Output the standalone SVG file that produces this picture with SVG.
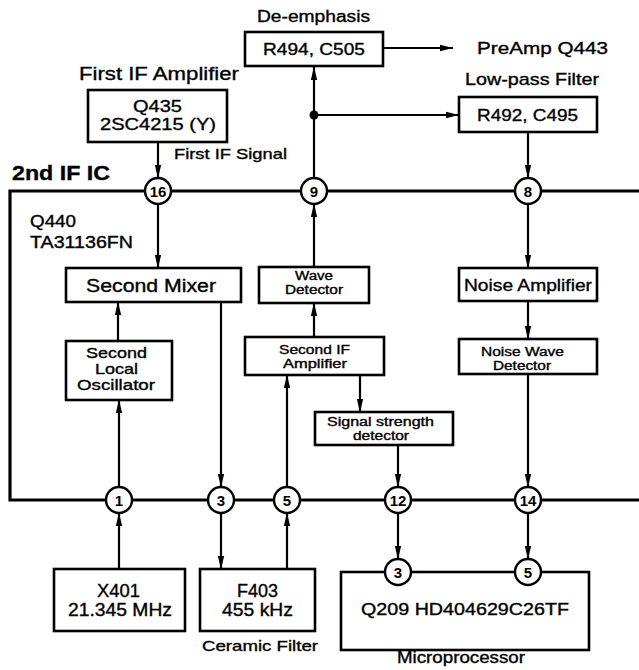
<svg xmlns="http://www.w3.org/2000/svg" width="639" height="670" viewBox="0 0 639 670">
<defs>
<marker id="ah" markerUnits="userSpaceOnUse" markerWidth="13" markerHeight="8" refX="13" refY="4" orient="auto">
<path d="M0,0.8 L13,4 L0,7.2 z" fill="#000"/>
</marker>
<style>
.t{font-family:"Liberation Sans",Arial,Helvetica,sans-serif;fill:#000;stroke:#000;stroke-width:0.35;text-anchor:middle}
.s{text-anchor:start}
.box{fill:#fff;stroke:#000;stroke-width:2.6}
.pin{fill:#fff;stroke:#000;stroke-width:2.4}
.pn{font-family:"Liberation Sans",Arial,sans-serif;font-weight:bold;font-size:15px;fill:#000;text-anchor:middle}
.c{fill:none;stroke:#000;stroke-width:2.2;marker-end:url(#ah)}
.ic{fill:none;stroke:#000;stroke-width:3.2}
</style>
</defs>
<rect x="0" y="0" width="639" height="670" fill="#fff"/>

<g id="ic-outline">
<path class="ic" d="M639,191 H10 V500 H639"/>
<text class="t s" x="12" y="180" font-size="21" font-weight="bold" textLength="98" lengthAdjust="spacingAndGlyphs">2nd IF IC</text>
<text class="t s" x="30" y="227" font-size="16" textLength="46" lengthAdjust="spacingAndGlyphs">Q440</text>
<text class="t s" x="30" y="248" font-size="16" textLength="103" lengthAdjust="spacingAndGlyphs">TA31136FN</text>
</g>

<g id="connectors">
<line class="c" x1="383" y1="48" x2="453" y2="48"/>
<line class="c" x1="314" y1="178" x2="314" y2="67"/>
<line class="c" x1="314" y1="115" x2="459" y2="115"/>
<circle cx="314" cy="115" r="4.5" fill="#000"/>
<line class="c" x1="528" y1="132" x2="528" y2="178"/>
<line class="c" x1="158" y1="142" x2="158" y2="178"/>
<line class="c" x1="158" y1="204" x2="158" y2="268"/>
<line class="c" x1="118" y1="341" x2="118" y2="302"/>
<line class="c" x1="119" y1="487" x2="119" y2="400"/>
<line class="c" x1="221" y1="302" x2="221" y2="487"/>
<line class="c" x1="314" y1="267" x2="314" y2="204"/>
<line class="c" x1="314" y1="337" x2="314" y2="303"/>
<line class="c" x1="287" y1="487" x2="287" y2="375"/>
<line class="c" x1="360" y1="375" x2="360" y2="412"/>
<line class="c" x1="398" y1="445" x2="398" y2="487"/>
<line class="c" x1="528" y1="204" x2="528" y2="268"/>
<line class="c" x1="528" y1="301" x2="528" y2="339"/>
<line class="c" x1="528" y1="374" x2="528" y2="487"/>
<line class="c" x1="119" y1="569" x2="119" y2="513"/>
<line class="c" x1="221" y1="513" x2="221" y2="569"/>
<line class="c" x1="287" y1="569" x2="287" y2="513"/>
<line class="c" x1="398" y1="513" x2="398" y2="559"/>
<line class="c" x1="528" y1="513" x2="528" y2="559"/>
</g>

<g id="de-emphasis">
<text class="t" x="313.5" y="22" font-size="16" textLength="113" lengthAdjust="spacingAndGlyphs">De-emphasis</text>
<rect class="box" x="245" y="32" width="138" height="34"/>
<text class="t" x="314" y="55" font-size="17" textLength="102" lengthAdjust="spacingAndGlyphs">R494, C505</text>
</g>
<g id="preamp">
<text class="t s" x="477" y="54" font-size="17" textLength="131" lengthAdjust="spacingAndGlyphs">PreAmp  Q443</text>
</g>
<g id="low-pass">
<text class="t" x="532" y="85" font-size="17" textLength="134" lengthAdjust="spacingAndGlyphs">Low-pass Filter</text>
<rect class="box" x="459" y="97" width="138" height="35"/>
<text class="t" x="527.5" y="121" font-size="17" textLength="101" lengthAdjust="spacingAndGlyphs">R492, C495</text>
</g>
<g id="first-if-amp">
<text class="t" x="159" y="80" font-size="18" textLength="160" lengthAdjust="spacingAndGlyphs">First IF Amplifier</text>
<rect class="box" x="88" y="90" width="139" height="52"/>
<text class="t" x="157.5" y="112" font-size="17" textLength="49" lengthAdjust="spacingAndGlyphs">Q435</text>
<text class="t" x="158" y="130" font-size="17" textLength="116" lengthAdjust="spacingAndGlyphs">2SC4215 (Y)</text>
<text class="t s" x="174" y="159" font-size="15" textLength="113" lengthAdjust="spacingAndGlyphs">First IF Signal</text>
</g>

<g id="second-mixer">
<rect class="box" x="66" y="268" width="175" height="34"/>
<text class="t" x="151" y="292" font-size="18" textLength="130" lengthAdjust="spacingAndGlyphs">Second Mixer</text>
</g>
<g id="second-local-osc">
<rect class="box" x="66" y="341" width="106" height="59"/>
<text class="t" x="116.5" y="358" font-size="15" textLength="61" lengthAdjust="spacingAndGlyphs">Second</text>
<text class="t" x="116.5" y="374" font-size="15" textLength="43" lengthAdjust="spacingAndGlyphs">Local</text>
<text class="t" x="116" y="390" font-size="15" textLength="78" lengthAdjust="spacingAndGlyphs">Oscillator</text>
</g>
<g id="wave-detector">
<rect class="box" x="259" y="267" width="110" height="36"/>
<text class="t" x="314" y="280" font-size="12" textLength="38" lengthAdjust="spacingAndGlyphs">Wave</text>
<text class="t" x="314" y="294" font-size="12" textLength="58" lengthAdjust="spacingAndGlyphs">Detector</text>
</g>
<g id="second-if-amp">
<rect class="box" x="245" y="337" width="139" height="38"/>
<text class="t" x="314.5" y="354" font-size="12" textLength="71" lengthAdjust="spacingAndGlyphs">Second IF</text>
<text class="t" x="315" y="368" font-size="12" textLength="64" lengthAdjust="spacingAndGlyphs">Amplifier</text>
</g>
<g id="signal-strength">
<rect class="box" x="315" y="412" width="138" height="33"/>
<text class="t" x="380.5" y="426" font-size="12" textLength="107" lengthAdjust="spacingAndGlyphs">Signal strength</text>
<text class="t" x="381" y="440" font-size="12" textLength="56" lengthAdjust="spacingAndGlyphs">detector</text>
</g>
<g id="noise-amp">
<rect class="box" x="459" y="268" width="138" height="33"/>
<text class="t" x="528" y="291" font-size="17" textLength="128" lengthAdjust="spacingAndGlyphs">Noise Amplifier</text>
</g>
<g id="noise-wave-detector">
<rect class="box" x="459" y="339" width="138" height="35"/>
<text class="t" x="522.5" y="356" font-size="12" textLength="83" lengthAdjust="spacingAndGlyphs">Noise Wave</text>
<text class="t" x="522" y="370" font-size="12" textLength="58" lengthAdjust="spacingAndGlyphs">Detector</text>
</g>

<g id="x401">
<rect class="box" x="54" y="569" width="131" height="62"/>
<text class="t" x="118.5" y="597" font-size="18" textLength="43" lengthAdjust="spacingAndGlyphs">X401</text>
<text class="t" x="120" y="616" font-size="18" textLength="104" lengthAdjust="spacingAndGlyphs">21.345 MHz</text>
</g>
<g id="f403">
<rect class="box" x="200" y="569" width="115" height="62"/>
<text class="t" x="257.5" y="597" font-size="18" textLength="41" lengthAdjust="spacingAndGlyphs">F403</text>
<text class="t" x="257.5" y="616" font-size="18" textLength="71" lengthAdjust="spacingAndGlyphs">455 kHz</text>
<text class="t" x="260" y="651" font-size="15" textLength="116" lengthAdjust="spacingAndGlyphs">Ceramic Filter</text>
</g>
<g id="microprocessor">
<rect class="box" x="341" y="572" width="248" height="78"/>
<text class="t" x="465" y="615" font-size="17" textLength="208" lengthAdjust="spacingAndGlyphs">Q209  HD404629C26TF</text>
<text class="t" x="461" y="663" font-size="16" textLength="128" lengthAdjust="spacingAndGlyphs">Microprocessor</text>
<circle class="pin" cx="398" cy="572" r="13"/><text class="pn" x="398" y="577.5">3</text>
<circle class="pin" cx="528" cy="572" r="13"/><text class="pn" x="528" y="577.5">5</text>
</g>

<g id="pin-16"><circle class="pin" cx="158" cy="191" r="13"/><text class="pn" x="158" y="196.5">16</text></g>
<g id="pin-9"><circle class="pin" cx="314" cy="191" r="13"/><text class="pn" x="314" y="196.5">9</text></g>
<g id="pin-8"><circle class="pin" cx="528" cy="191" r="13"/><text class="pn" x="528" y="196.5">8</text></g>
<g id="pin-1"><circle class="pin" cx="119" cy="500" r="13"/><text class="pn" x="119" y="505.5">1</text></g>
<g id="pin-3"><circle class="pin" cx="221" cy="500" r="13"/><text class="pn" x="221" y="505.5">3</text></g>
<g id="pin-5"><circle class="pin" cx="287" cy="500" r="13"/><text class="pn" x="287" y="505.5">5</text></g>
<g id="pin-12"><circle class="pin" cx="398" cy="500" r="13"/><text class="pn" x="398" y="505.5">12</text></g>
<g id="pin-14"><circle class="pin" cx="528" cy="500" r="13"/><text class="pn" x="528" y="505.5">14</text></g>
</svg>
